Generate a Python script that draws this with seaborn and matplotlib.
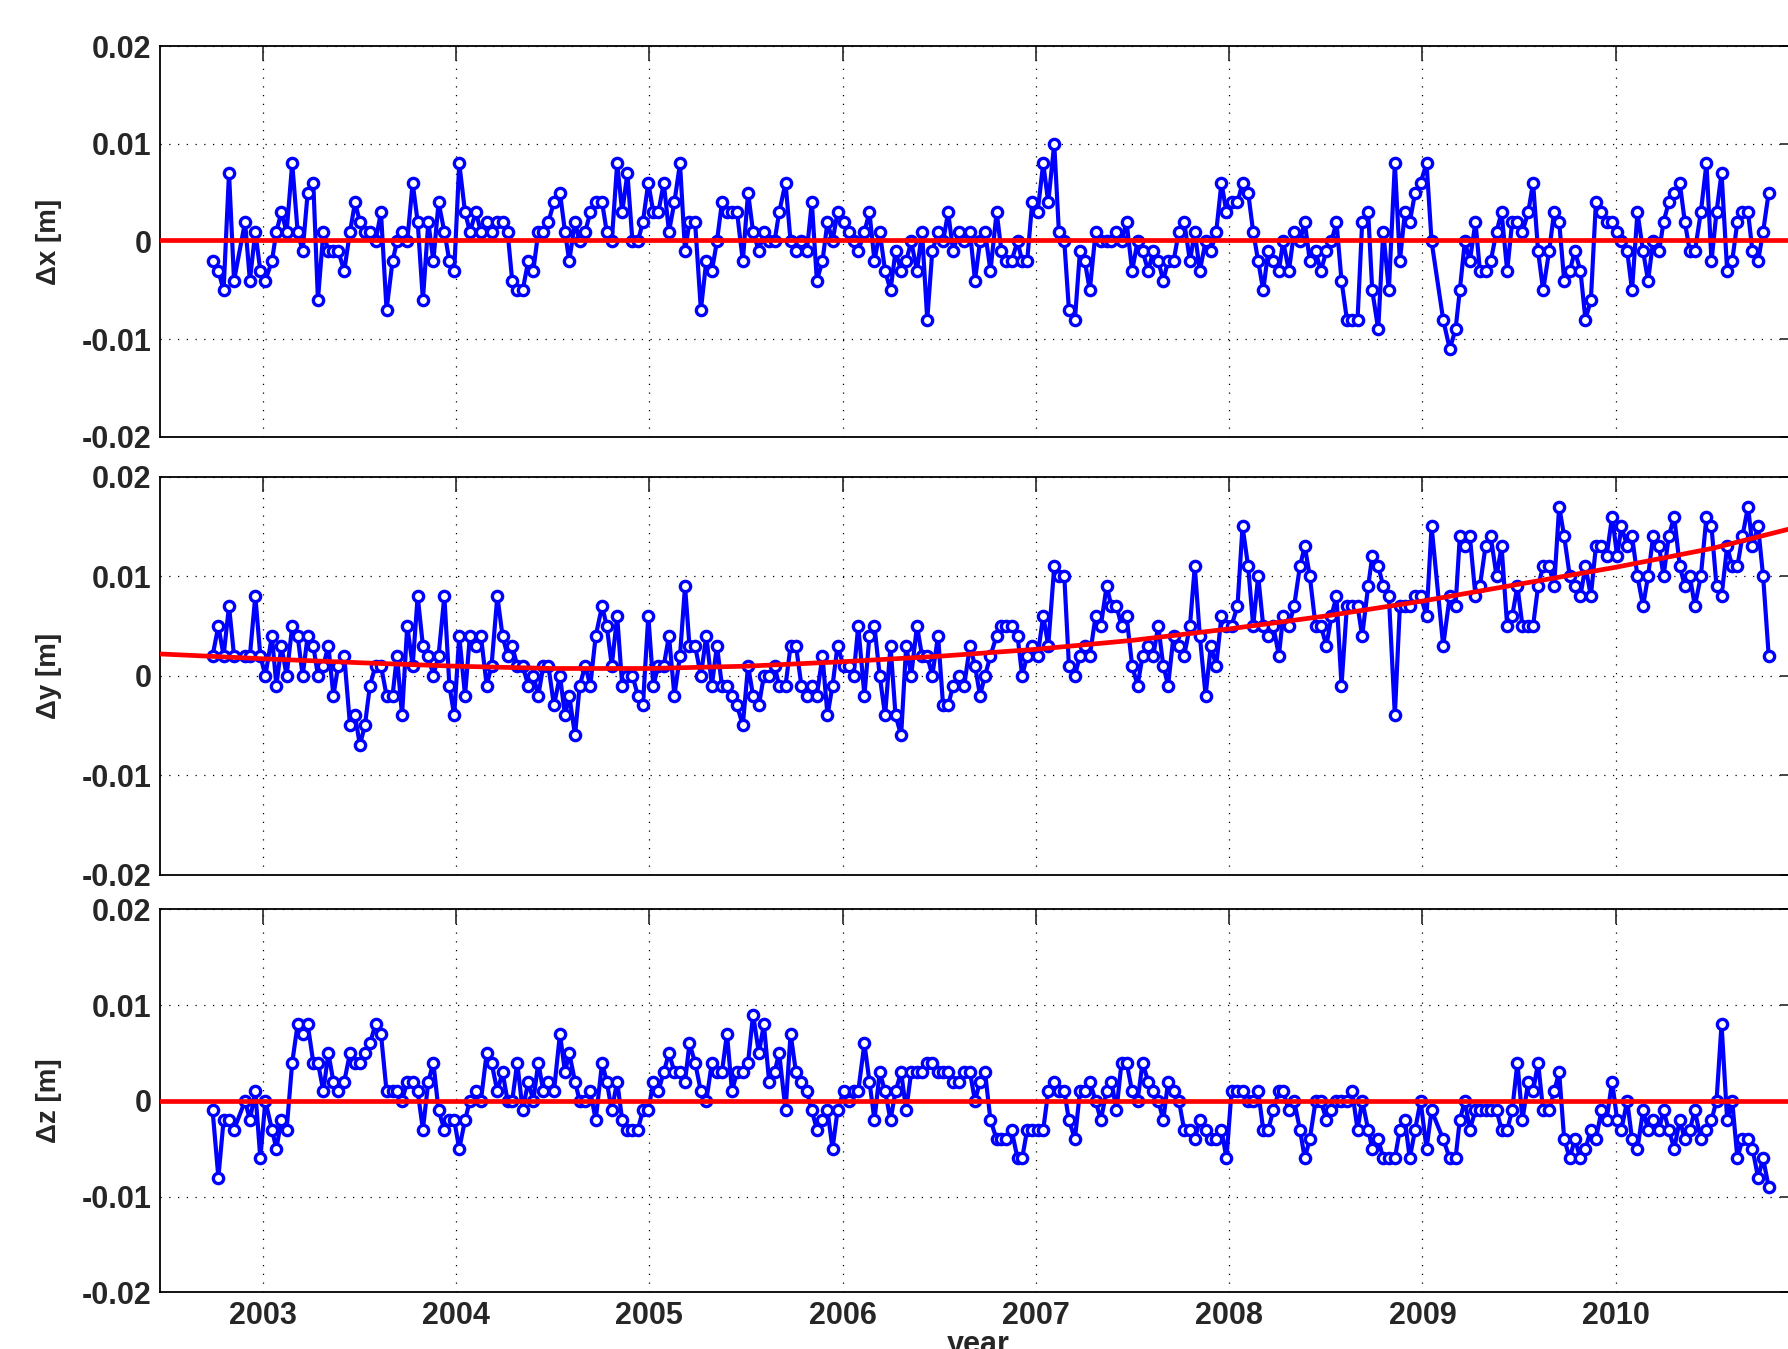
import numpy as np
import matplotlib
matplotlib.use("Agg")
import matplotlib.pyplot as plt
import seaborn as sns

# epochs (decimal year) and coordinate residuals in mm
epoch = [
    2002.741, 2002.771, 2002.798, 2002.826, 2002.852, 2002.909, 2002.934, 2002.962, 2002.988, 2003.014,
    2003.048, 2003.071, 2003.097, 2003.124, 2003.153, 2003.181, 2003.207, 2003.233, 2003.262, 2003.286,
    2003.314, 2003.340, 2003.366, 2003.391, 2003.422, 2003.452, 2003.478, 2003.503, 2003.529, 2003.555,
    2003.584, 2003.612, 2003.641, 2003.672, 2003.695, 2003.721, 2003.748, 2003.776, 2003.802, 2003.829,
    2003.857, 2003.883, 2003.910, 2003.940, 2003.966, 2003.991, 2004.017, 2004.047, 2004.072, 2004.103,
    2004.129, 2004.159, 2004.184, 2004.214, 2004.241, 2004.267, 2004.291, 2004.317, 2004.345, 2004.374,
    2004.400, 2004.426, 2004.452, 2004.478, 2004.507, 2004.538, 2004.564, 2004.586, 2004.616,
    2004.640, 2004.669, 2004.695, 2004.723, 2004.756, 2004.780, 2004.806, 2004.834, 2004.860, 2004.887,
    2004.913, 2004.941, 2004.967, 2004.995, 2005.021, 2005.047, 2005.075, 2005.102, 2005.130, 2005.159,
    2005.185, 2005.208, 2005.237, 2005.267, 2005.295, 2005.324, 2005.350, 2005.376, 2005.402, 2005.428,
    2005.454, 2005.484, 2005.511, 2005.537, 2005.567, 2005.593, 2005.620, 2005.648, 2005.672, 2005.705,
    2005.731, 2005.759, 2005.787, 2005.815, 2005.841, 2005.867, 2005.896, 2005.922, 2005.948, 2005.974,
    2006.005, 2006.031, 2006.057, 2006.081, 2006.113, 2006.139, 2006.165, 2006.192, 2006.220, 2006.248,
    2006.274, 2006.303, 2006.329, 2006.355, 2006.385, 2006.411, 2006.438, 2006.464, 2006.494, 2006.520,
    2006.546, 2006.572, 2006.601, 2006.629, 2006.659, 2006.685, 2006.711, 2006.737, 2006.765,
    2006.797, 2006.822, 2006.848, 2006.874, 2006.905, 2006.929, 2006.955, 2006.981, 2007.009, 2007.038,
    2007.064, 2007.095, 2007.119, 2007.147, 2007.171, 2007.202, 2007.228, 2007.253, 2007.279, 2007.309,
    2007.336, 2007.366, 2007.391, 2007.417, 2007.443, 2007.469, 2007.498, 2007.526, 2007.552, 2007.581,
    2007.607, 2007.633, 2007.659, 2007.684, 2007.712, 2007.740, 2007.767, 2007.797, 2007.822, 2007.848,
    2007.878, 2007.905, 2007.933, 2007.960, 2007.986, 2008.012, 2008.043, 2008.069, 2008.098, 2008.124,
    2008.150, 2008.176, 2008.202, 2008.228, 2008.257, 2008.279, 2008.309, 2008.336, 2008.366, 2008.391,
    2008.417, 2008.447, 2008.474, 2008.503, 2008.529, 2008.555, 2008.581, 2008.609, 2008.636, 2008.664,
    2008.688, 2008.719, 2008.740, 2008.771, 2008.797, 2008.826, 2008.857,
    2008.883, 2008.909, 2008.934, 2008.962, 2008.990, 2009.021, 2009.047, 2009.107, 2009.141, 2009.171,
    2009.193, 2009.219, 2009.245, 2009.274, 2009.297, 2009.326, 2009.353, 2009.383, 2009.409, 2009.438,
    2009.464, 2009.491, 2009.517, 2009.547, 2009.572, 2009.598, 2009.624, 2009.655, 2009.681, 2009.707,
    2009.733, 2009.762, 2009.788, 2009.817, 2009.843, 2009.871, 2009.897, 2009.926, 2009.952, 2009.981,
    2010.007, 2010.029, 2010.059, 2010.084, 2010.112, 2010.141, 2010.167, 2010.193, 2010.224, 2010.247,
    2010.274, 2010.302, 2010.331, 2010.357, 2010.383, 2010.409, 2010.440, 2010.469, 2010.495, 2010.521,
    2010.547, 2010.576, 2010.602, 2010.629, 2010.655, 2010.684, 2010.707, 2010.736, 2010.762, 2010.791,
]

dx_mm = [
    -2, -3, -5, 7, -4, 2, -4, 1, -3, -4, -2, 1, 3, 1, 8, 1, -1, 5, 6, -6,
    1, -1, -1, -1, -3, 1, 4, 2, 1, 1, 0, 3, -7, -2, 0, 1, 0, 6, 2, -6,
    2, -2, 4, 1, -2, -3, 8, 3, 1, 3, 1, 2, 1, 2, 2, 1, -4, -5, -5, -2,
    -3, 1, 1, 2, 4, 5, 1, -2, 2,
    0, 1, 3, 4, 4, 1, 0, 8, 3, 7, 0, 0, 2, 6, 3, 3, 6, 1, 4, 8,
    -1, 2, 2, -7, -2, -3, 0, 4, 3, 3, 3, -2, 5, 1, -1, 1, 0, 0, 3, 6,
    0, -1, 0, -1, 4, -4, -2, 2, 0, 3, 2, 1, 0, -1, 1, 3, -2, 1, -3, -5,
    -1, -3, -2, 0, -3, 1, -8, -1, 1, 0, 3, -1, 1, 0, 1, -4, 0, 1, -3,
    3, -1, -2, -2, 0, -2, -2, 4, 3, 8, 4, 10, 1, 0, -7, -8, -1, -2, -5, 1,
    0, 0, 0, 1, 0, 2, -3, 0, -1, -3, -1, -2, -4, -2, -2, 1, 2, -2, 1, -3,
    0, -1, 1, 6, 3, 4, 4, 6, 5, 1, -2, -5, -1, -2, -3, 0, -3, 1, 0, 2,
    -2, -1, -3, -1, 0, 2, -4, -8, -8, -8, 2, 3, -5, -9, 1, -5, 8,
    -2, 3, 2, 5, 6, 8, 0, -8, -11, -9, -5, 0, -2, 2, -3, -3, -2, 1, 3, -3,
    2, 2, 1, 3, 6, -1, -5, -1, 3, 2, -4, -3, -1, -3, -8, -6, 4, 3, 2, 2,
    1, 0, -1, -5, 3, -1, -4, 0, -1, 2, 4, 5, 6, 2, -1, -1, 3, 8, -2, 3,
    7, -3, -2, 2, 3, 3, -1, -2, 1, 5,
]

dy_mm = [
    2, 5, 2, 7, 2, 2, 2, 8, 2, 0, 4, -1, 3, 0, 5, 4, 0, 4, 3, 0,
    1, 3, -2, 1, 2, -5, -4, -7, -5, -1, 1, 1, -2, -2, 2, -4, 5, 1, 8, 3,
    2, 0, 2, 8, -1, -4, 4, -2, 4, 3, 4, -1, 1, 8, 4, 2, 3, 1, 1, -1,
    0, -2, 1, 1, -3, 0, -4, -2, -6,
    -1, 1, -1, 4, 7, 5, 1, 6, -1, 0, 0, -2, -3, 6, -1, 1, 1, 4, -2, 2,
    9, 3, 3, 0, 4, -1, 3, -1, -1, -2, -3, -5, 1, -2, -3, 0, 0, 1, -1, -1,
    3, 3, -1, -2, -1, -2, 2, -4, -1, 3, 1, 1, 0, 5, -2, 4, 5, 0, -4, 3,
    -4, -6, 3, 0, 5, 2, 2, 0, 4, -3, -3, -1, 0, -1, 3, 1, -2, 0, 2,
    4, 5, 5, 5, 4, 0, 2, 3, 2, 6, 3, 11, 10, 10, 1, 0, 2, 3, 2, 6,
    5, 9, 7, 7, 5, 6, 1, -1, 2, 3, 2, 5, 1, -1, 4, 3, 2, 5, 11, 4,
    -2, 3, 1, 6, 5, 5, 7, 15, 11, 5, 10, 5, 4, 5, 2, 6, 5, 7, 11, 13,
    10, 5, 5, 3, 6, 8, -1, 7, 7, 7, 4, 9, 12, 11, 9, 8, -4,
    7, 7, 7, 8, 8, 6, 15, 3, 8, 7, 14, 13, 14, 8, 9, 13, 14, 10, 13, 5,
    6, 9, 5, 5, 5, 9, 11, 11, 9, 17, 14, 10, 9, 8, 11, 8, 13, 13, 12, 16,
    12, 15, 13, 14, 10, 7, 10, 14, 13, 10, 14, 16, 11, 9, 10, 7, 10, 16, 15, 9,
    8, 13, 11, 11, 14, 17, 13, 15, 10, 2,
]

dz_mm = [
    -1, -8, -2, -2, -3, 0, -2, 1, -6, 0, -3, -5, -2, -3, 4, 8, 7, 8, 4, 4,
    1, 5, 2, 1, 2, 5, 4, 4, 5, 6, 8, 7, 1, 1, 1, 0, 2, 2, 1, -3,
    2, 4, -1, -3, -2, -2, -5, -2, 0, 1, 0, 5, 4, 1, 3, 0, 0, 4, -1, 2,
    0, 4, 1, 2, 1, 7, 3, 5, 2,
    0, 0, 1, -2, 4, 2, -1, 2, -2, -3, -3, -3, -1, -1, 2, 1, 3, 5, 3, 3,
    2, 6, 4, 1, 0, 4, 3, 3, 7, 1, 3, 3, 4, 9, 5, 8, 2, 3, 5, -1,
    7, 3, 2, 1, -1, -3, -2, -1, -5, -1, 1, 0, 1, 1, 6, 2, -2, 3, 1, -2,
    1, 3, -1, 3, 3, 3, 4, 4, 3, 3, 3, 2, 2, 3, 3, 0, 2, 3, -2,
    -4, -4, -4, -3, -6, -6, -3, -3, -3, -3, 1, 2, 1, 1, -2, -4, 1, 1, 2, 0,
    -2, 1, 2, -1, 4, 4, 1, 0, 4, 2, 1, 0, -2, 2, 1, 0, -3, -3, -4, -2,
    -3, -4, -4, -3, -6, 1, 1, 1, 0, 0, 1, -3, -3, -1, 1, 1, -1, 0, -3, -6,
    -4, 0, 0, -2, -1, 0, 0, 0, 1, -3, 0, -3, -5, -4, -6, -6, -6,
    -3, -2, -6, -3, 0, -5, -1, -4, -6, -6, -2, 0, -3, -1, -1, -1, -1, -1, -3, -3,
    -1, 4, -2, 2, 1, 4, -1, -1, 1, 3, -4, -6, -4, -6, -5, -3, -4, -1, -2, 2,
    -2, -3, 0, -4, -5, -1, -3, -2, -3, -1, -3, -5, -2, -4, -3, -1, -4, -3, -2, 0,
    8, -2, 0, -6, -4, -4, -5, -8, -6, -9,
]

# fitted trend curves (red), mm
trend_x_t = [2002.45, 2010.95]
trend_x = [0.1, 0.1]
trend_y_t = [2002.45, 2003.0, 2003.5, 2004.0, 2004.5, 2005.0, 2005.5, 2006.0, 2006.5,
             2007.0, 2007.5, 2008.0, 2008.5, 2009.0, 2009.5, 2010.0, 2010.5, 2010.95]
trend_y = [2.2, 1.7, 1.3, 0.95, 0.72, 0.72, 0.95, 1.4, 1.95,
           2.65, 3.55, 4.7, 6.0, 7.5, 9.2, 10.9, 12.8, 15.0]
trend_z_t = [2002.45, 2010.95]
trend_z = [0.0, 0.0]

years = [2003, 2004, 2005, 2006, 2007, 2008, 2009, 2010]
yticks = [-0.02, -0.01, 0, 0.01, 0.02]
ytick_labels = ['-0.02', '-0.01', '0', '0.01', '0.02']
ylabels = ['\u0394x [m]', '\u0394y [m]', '\u0394z [m]']

sns.set_style("white")
plt.rcParams['font.family'] = ['Liberation Sans', 'DejaVu Sans']
plt.rcParams['font.weight'] = 'bold'

fig = plt.figure(figsize=(17.88, 13.49), dpi=100)

# panel boxes (bottom, height) in figure fraction
boxes = [(0.6761, 0.2898), (0.3517, 0.2949), (0.0419, 0.2841)]
left, width = 160 / 1788, 1635 / 1788

series = [
    (dx_mm, trend_x_t, trend_x),
    (dy_mm, trend_y_t, trend_y),
    (dz_mm, trend_z_t, trend_z),
]

for i, ((vals, tt, tv), (b, h)) in enumerate(zip(series, boxes)):
    ax = fig.add_axes([left, b, width, h])
    sns.lineplot(x=epoch, y=np.array(vals) / 1000.0, ax=ax, estimator=None, sort=False,
                 color='#0000ff', linewidth=3.0, marker='o', markersize=7.4,
                 markeredgewidth=2.4, markeredgecolor='#0000ff', markerfacecolor='white',
                 zorder=2)
    sns.lineplot(x=tt, y=np.array(tv) / 1000.0, ax=ax, estimator=None, sort=False,
                 color='#ff0000', linewidth=3.4, zorder=3)

    ax.set_xlim(2002.469, 2010.927)
    ax.set_ylim(-0.02, 0.02)
    ax.set_xticks(years)
    ax.set_yticks(yticks)
    ax.set_yticklabels(ytick_labels)
    ax.grid(True, color='k', linestyle=(0, (1, 6)), linewidth=0.9)
    ax.tick_params(direction='in', length=11, width=1.2, top=True, right=True,
                   labelsize=22, pad=6)
    for sp in ax.spines.values():
        sp.set_linewidth(1.3)
        sp.set_color('black')
    ax.set_xlabel('')
    ax.set_ylabel(ylabels[i], fontsize=20, fontweight='bold')
    ax.yaxis.set_label_coords(-0.060, 0.5)
    if i < 2:
        ax.tick_params(labelbottom=False)
    else:
        ax.set_xticklabels([str(y) for y in years])
    for lab in ax.get_xticklabels() + ax.get_yticklabels():
        lab.set_fontweight('bold')

# axis title sits half below the lower edge, as in the source figure
fig.text(978 / 1788, -0.003, 'year', ha='center', va='baseline', fontsize=22, fontweight='bold')

fig.savefig('out.png', dpi=100)
